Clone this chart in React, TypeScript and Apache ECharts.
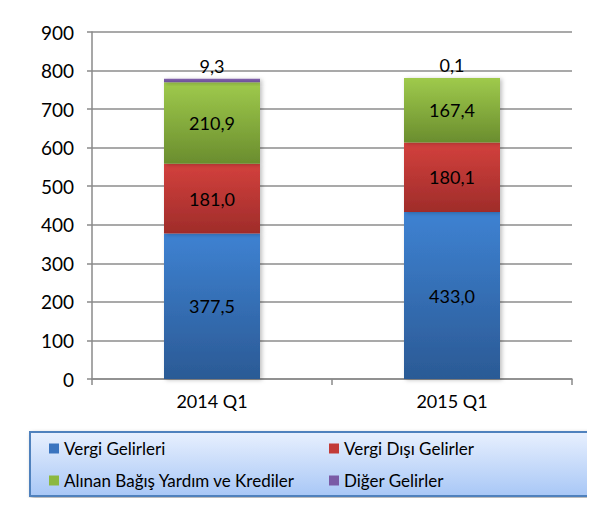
import React, { useEffect, useRef } from "react";
import * as echarts from "echarts";

const categories = ["2014 Q1", "2015 Q1"];
const seriesNames = ["Vergi Gelirleri", "Vergi Dışı Gelirler", "Alınan Bağış Yardım ve Krediler", "Diğer Gelirler"];
const vergiGelirleri = [377.5, 433.0];
const vergiDisi = [181.0, 180.1];
const bagisYardim = [210.9, 167.4];
const digerGelirler = [9.3, 0.1];
const yTicks = { min: 0, max: 900, interval: 100 };

const FONT = "Lato";

const grad = (top: string, bottom: string) =>
  new echarts.graphic.LinearGradient(0, 0, 0, 1, [
    { offset: 0, color: top },
    { offset: 1, color: bottom },
  ]);

const fmt = (p: any) => Number(p.value).toFixed(1).replace(".", ",");

export default function App() {
  const ref = useRef<HTMLDivElement>(null);
  useEffect(() => {
    if (!ref.current) return;
    const chart = echarts.init(ref.current, undefined, { renderer: "svg" });
    const colors = [
      grad("#3e82d2", "#2b5a95"),
      grad("#d3413d", "#9f2c2a"),
      grad("#9fca4c", "#6a8d2e"),
      grad("#8061ab", "#6d4f98"),
    ];
    const legendColors = ["#3a74bf", "#c23a37", "#8cb840", "#7a5ba6"];
    const dataSets = [vergiGelirleri, vergiDisi, bagisYardim, digerGelirler];
    const series = dataSets.map((d, i) => ({
      name: seriesNames[i],
      type: "bar",
      stack: "total",
      barWidth: "40%",
      data: d,
      itemStyle: {
        color: colors[i],
        shadowBlur: 4,
        shadowColor: "rgba(0,0,0,0.25)",
        shadowOffsetX: 2,
        shadowOffsetY: 1,
      },
      label: {
        show: true,
        position: i === 3 ? "top" : "inside",
        distance: 4,
        formatter: fmt,
        color: "#000",
        fontFamily: FONT,
        fontSize: 18,
      },
    }));
    const legendBase = {
      orient: "vertical",
      top: 440,
      padding: 0,
      icon: "rect",
      itemWidth: 10,
      itemHeight: 10,
      itemGap: 15,
      textStyle: { color: "#000", fontFamily: FONT, fontSize: 17, lineHeight: 17 },
      z: 10,
    };
    chart.setOption({
      animation: false,
      backgroundColor: "#fff",
      grid: { left: 92, right: 23, top: 32, bottom: 127 },
      xAxis: {
        type: "category",
        data: categories,
        axisLine: { lineStyle: { color: "#8a8a8a", width: 1.5 } },
        axisTick: { show: true, length: 6, lineStyle: { color: "#8a8a8a", width: 1.5 } },
        axisLabel: { color: "#000", fontFamily: FONT, fontSize: 18, margin: 13 },
      },
      yAxis: {
        type: "value",
        min: yTicks.min,
        max: yTicks.max,
        interval: yTicks.interval,
        axisLine: { show: true, lineStyle: { color: "#8a8a8a", width: 1.5 } },
        axisTick: { show: true, length: 5, lineStyle: { color: "#8a8a8a", width: 1.5 } },
        splitLine: { lineStyle: { color: "#8c8c8c", width: 1.5 } },
        axisLabel: { color: "#000", fontFamily: FONT, fontSize: 19, margin: 18 },
      },
      legend: [
        {
          ...legendBase,
          left: 49,
          data: [
            { name: seriesNames[0], itemStyle: { color: legendColors[0], shadowBlur: 0, shadowOffsetX: 0, shadowOffsetY: 0 } },
            { name: seriesNames[2], itemStyle: { color: legendColors[2], shadowBlur: 0, shadowOffsetX: 0, shadowOffsetY: 0 } },
          ],
        },
        {
          ...legendBase,
          left: 329,
          data: [
            { name: seriesNames[1], itemStyle: { color: legendColors[1], shadowBlur: 0, shadowOffsetX: 0, shadowOffsetY: 0 } },
            { name: seriesNames[3], itemStyle: { color: legendColors[3], shadowBlur: 0, shadowOffsetX: 0, shadowOffsetY: 0 } },
          ],
        },
      ],
      graphic: [
        {
          type: "rect",
          shape: { x: 30, y: 432, width: 561, height: 64 },
          style: {
            fill: new echarts.graphic.LinearGradient(0, 0, 0, 1, [
              { offset: 0, color: "#e8f0fe" },
              { offset: 1, color: "#a8c7f6" },
            ]),
            stroke: "#4f81bd",
            lineWidth: 2,
            shadowBlur: 4,
            shadowOffsetX: 2,
            shadowOffsetY: 2,
            shadowColor: "rgba(0,0,0,0.35)",
          },
          z: 1,
          silent: true,
        },
        {
          type: "rect",
          shape: { x: 5, y: 0, width: 3, height: 506 },
          style: { fill: "#8c8c8c" },
          z: 100,
          silent: true,
        },
        {
          type: "rect",
          shape: { x: 5, y: 503, width: 590, height: 3 },
          style: { fill: "#8c8c8c" },
          z: 100,
          silent: true,
        },
      ],
      series,
    });
    return () => chart.dispose();
  }, []);
  return (
    <div style={{ position: "relative", width: 595, height: 506, margin: -8, overflow: "hidden" }}>
      <div ref={ref} style={{ width: 595, height: 506 }} />
    </div>
  );
}
